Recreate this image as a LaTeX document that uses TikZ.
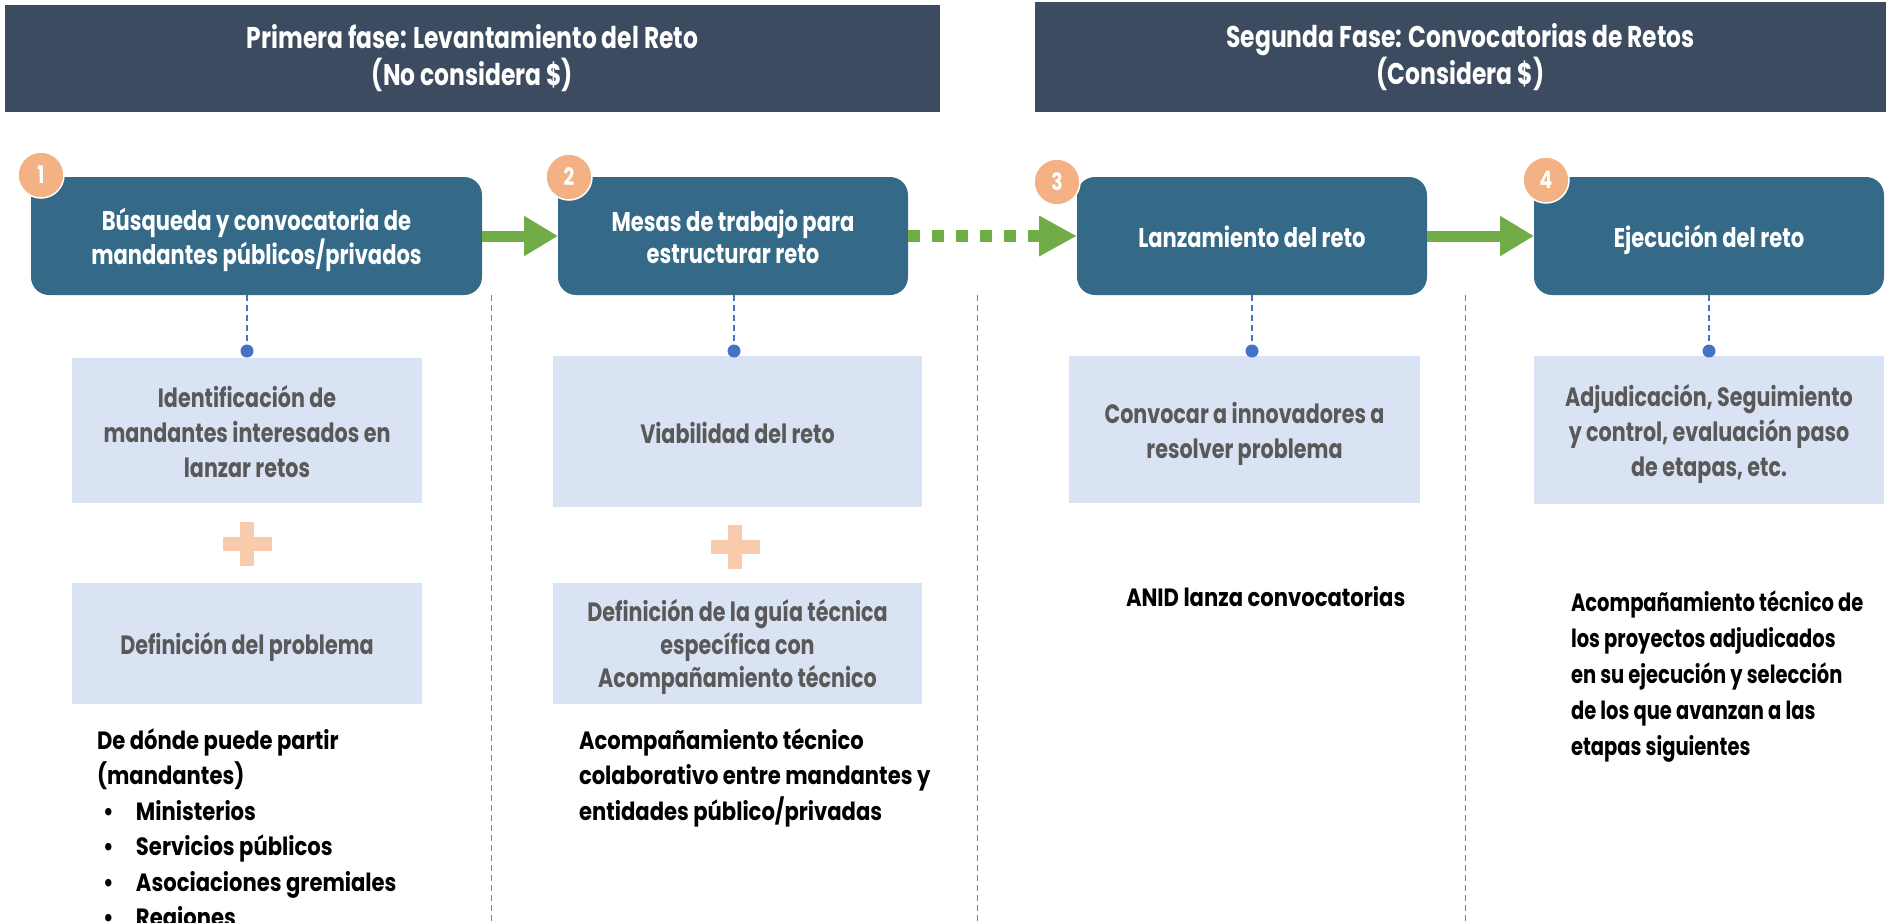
\documentclass[tikz,border=0pt]{standalone}
\usepackage{fontspec}
\setmainfont{Poppins}[FakeStretch=0.78]
\newfontfamily\notefont{Poppins}[FakeStretch=0.845]
\usetikzlibrary{arrows.meta}
\definecolor{hdrc}{HTML}{3C4B5F}
\definecolor{boxc}{HTML}{346A88}
\definecolor{badgec}{HTML}{F4B183}
\definecolor{arrc}{HTML}{70AD47}
\definecolor{lightc}{HTML}{DAE3F3}
\definecolor{plusc}{HTML}{F8CBAD}
\definecolor{dotc}{HTML}{4472C4}
\definecolor{sepc}{HTML}{7A8696}
\definecolor{graytxt}{HTML}{595959}
\newcommand{\stA}{\rule{0pt}{30pt}}
\newcommand{\stB}{\rule[-7pt]{0pt}{7pt}}
\begin{document}
\begin{tikzpicture}[x=1pt,y=-1pt,
  every node/.style={inner sep=0pt, outer sep=0pt},
  hdrbox/.style={fill=hdrc, text=white, align=center, font=\bfseries\fontsize{30}{37}\selectfont},
  stepbox/.style={fill=boxc, rounded corners=18pt, text=white, align=center, minimum height=118pt, minimum width=350pt, font=\bfseries\fontsize{27}{32}\selectfont},
  badge/.style={circle, fill=badgec, draw=white, line width=1.5pt, minimum size=46pt, text=white, font=\bfseries\fontsize{24}{24}\selectfont},
  lightbox/.style={fill=lightc, text=graytxt, align=center, font=\bfseries\fontsize{26.5}{35}\selectfont},
  dotnode/.style={circle, fill=dotc, minimum size=13pt},
  conn/.style={draw=dotc, line width=1.5pt, dash pattern=on 6pt off 4pt},
  sepline/.style={draw=sepc, line width=1pt, dash pattern=on 6pt off 4pt},
  bigarrow/.style={draw=arrc, line width=11pt, line cap=butt, -{Triangle[length=34pt, width=38pt]}},
  dotarrow/.style={draw=arrc, line width=12pt, line cap=butt, dash pattern=on 12pt off 12pt, -{Triangle[length=38pt, width=38pt]}},
  plussign/.style={minimum width=49pt, minimum height=44pt},
  note/.style={align=left, text=black, font=\notefont\bfseries\fontsize{25}{35.5}\selectfont}
]
\useasboundingbox (0,0) rectangle (1888,922);

% headers
\node[hdrbox, minimum width=935pt, minimum height=107pt] (h1) at (472.5,58.5) {Primera fase: Levantamiento del Reto\\(No considera \$)};
\node[hdrbox, minimum width=851pt, minimum height=110pt] (h2) at (1460.5,57) {Segunda Fase: Convocatorias de Retos\\(Considera \$)};

% separators
\coordinate (s1t) at (491,295); \coordinate (s1b) at (491,922);
\coordinate (s2t) at (977,295); \coordinate (s2b) at (977,922);
\coordinate (s3t) at (1465,295); \coordinate (s3b) at (1465,922);
\draw[sepline] (s1t) -- (s1b);
\draw[sepline] (s2t) -- (s2b);
\draw[sepline] (s3t) -- (s3b);

% step boxes
\node[stepbox, minimum width=451pt] (b1) at (256.5,236) {\stA Búsqueda y convocatoria de\\mandantes públicos/privados\stB};
\node[stepbox] (b2) at (733,236) {\stA Mesas de trabajo para\\estructurar reto\stB};
\node[stepbox] (b3) at (1252,236) {\stA Lanzamiento del reto\stB};
\node[stepbox] (b4) at (1709,236) {\stA Ejecución del reto\stB};

% badges
\node[badge] (n1) at (41,175) {1};
\node[badge] (n2) at (569,177) {2};
\node[badge] (n3) at (1057,182) {3};
\node[badge] (n4) at (1546,180) {4};

% arrows
\draw[bigarrow] (b1.east |- 0,236) -- (b2.west |- 0,236);
\draw[dotarrow] (b2.east |- 0,236) -- (b3.west |- 0,236);
\draw[bigarrow] (b3.east |- 0,236) -- (b4.west |- 0,236);

% light boxes
\node[lightbox, minimum width=350pt, minimum height=145pt] (l1a) at (247,430.5) {\stA Identificación de\\mandantes interesados en\\lanzar retos\stB};
\node[lightbox, minimum width=350pt, minimum height=121pt] (l1b) at (247,643.5) {\stA Definición del problema\stB};
\node[lightbox, minimum width=369pt, minimum height=151pt] (l2a) at (737.5,431.5) {\stA Viabilidad del reto\stB};
\node[lightbox, minimum width=369pt, minimum height=121pt, font=\bfseries\fontsize{26.5}{33}\selectfont] (l2b) at (737.5,643.5) {\stA Definición de la guía técnica\\específica con\\Acompañamiento técnico\stB};
\node[lightbox, minimum width=351pt, minimum height=147pt] (l3) at (1244.5,429.5) {\stA Convocar a innovadores a\\resolver problema\stB};
\node[lightbox, minimum width=350pt, minimum height=148pt] (l4) at (1709,430) {\stA Adjudicación, Seguimiento\\y control, evaluación paso\\de etapas, etc.\stB};

% dots and connectors
\node[dotnode] (d1) at (247,351) {};
\node[dotnode] (d2) at (734,351) {};
\node[dotnode] (d3) at (1252,351) {};
\node[dotnode] (d4) at (1709,351) {};
\draw[conn] (b1.south -| d1) -- (d1);
\draw[conn] (b2.south -| d2) -- (d2);
\draw[conn] (b3.south -| d3) -- (d3);
\draw[conn] (b4.south -| d4) -- (d4);

% plus signs
\node[plussign] (p1) at (247,544) {};
\node[plussign] (p2) at (735,547) {};
\fill[plusc] ([xshift=-7pt]p1.north) rectangle ([xshift=7pt]p1.south);
\fill[plusc] ([yshift=7pt]p1.west) rectangle ([yshift=-7pt]p1.east);
\fill[plusc] ([xshift=-7pt]p2.north) rectangle ([xshift=7pt]p2.south);
\fill[plusc] ([yshift=7pt]p2.west) rectangle ([yshift=-7pt]p2.east);

% notes (anchor = baseline of last line)
\node[note, anchor=base west] (t1) at (97,926.5) {De dónde puede partir\\(mandantes)\\\hspace*{6pt}\makebox[33pt][l]{\textbullet}Ministerios\\\hspace*{6pt}\makebox[33pt][l]{\textbullet}Servicios públicos\\\hspace*{6pt}\makebox[33pt][l]{\textbullet}Asociaciones gremiales\\\hspace*{6pt}\makebox[33pt][l]{\textbullet}Regiones};
\node[note, anchor=base west] (t2) at (579,820) {Acompañamiento técnico\\colaborativo entre mandantes y\\entidades público/privadas};
\node[note, anchor=base west] (t3) at (1126,606) {ANID lanza convocatorias};
\node[note, anchor=base west, font=\bfseries\fontsize{25}{36}\selectfont] (t4) at (1571,755) {Acompañamiento técnico de\\los proyectos adjudicados\\en su ejecución y selección\\de los que avanzan a las\\etapas siguientes};
\end{tikzpicture}
\end{document}
